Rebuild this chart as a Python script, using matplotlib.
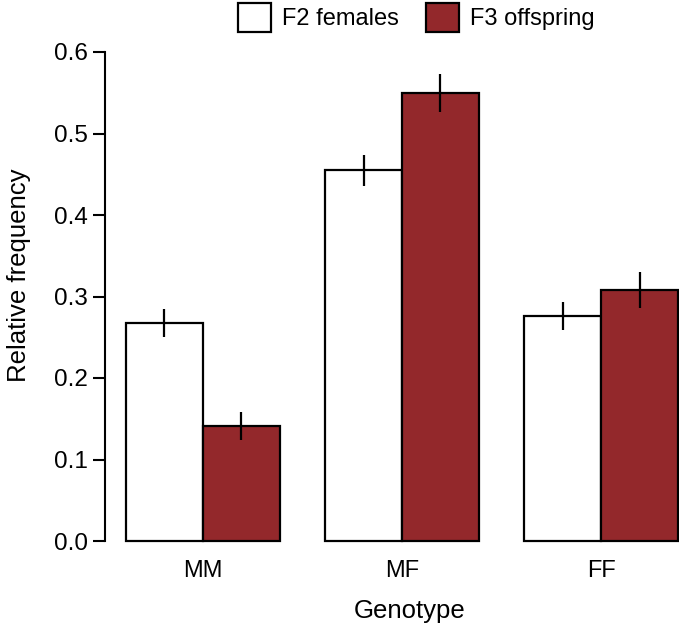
import numpy as np
import matplotlib
matplotlib.use('Agg')
import matplotlib.pyplot as plt
from matplotlib.patches import Patch

plt.rcParams['font.family'] = ['Liberation Sans', 'DejaVu Sans']

genotypes = ['MM', 'MF', 'FF']
f2_females = [0.2675, 0.455, 0.276]
f2_err = [0.017, 0.019, 0.017]
f3_offspring = [0.141, 0.5497, 0.308]
f3_err = [0.017, 0.0233, 0.022]

red = '#93282B'
w = 0.386
x = np.arange(len(genotypes))

fig = plt.figure(figsize=(6.79, 6.32), dpi=100)
ax = fig.add_axes([105 / 679, (632 - 541) / 632, 1 - 105 / 679, (541 - 52) / 632])

ax.bar(x - w / 2, f2_females, w, color='white', edgecolor='black', linewidth=1.6, clip_on=False)
ax.bar(x + w / 2, f3_offspring, w, color=red, edgecolor='black', linewidth=1.6, clip_on=False)
ax.errorbar(x - w / 2, f2_females, yerr=f2_err, fmt='none', ecolor='black', elinewidth=1.6, capsize=0)
ax.errorbar(x + w / 2, f3_offspring, yerr=f3_err, fmt='none', ecolor='black', elinewidth=1.6, capsize=0)

ax.set_xlim(-0.491, 2.391)
ax.set_ylim(0, 0.6)
ax.set_yticks([0.0, 0.1, 0.2, 0.3, 0.4, 0.5, 0.6])
ax.set_yticklabels(['0.0', '0.1', '0.2', '0.3', '0.4', '0.5', '0.6'])
ax.set_xticks(x)
ax.set_xticklabels(genotypes)

for s in ['top', 'right', 'bottom']:
    ax.spines[s].set_visible(False)
ax.spines['left'].set_bounds(0, 0.6)
ax.spines['left'].set_linewidth(1.5)
ax.tick_params(axis='y', length=8.6, width=1.5, labelsize=17.5, pad=3.6)
ax.tick_params(axis='x', length=0, labelsize=17, pad=14)

ax.set_ylabel('Relative frequency', fontsize=18.5)
ax.yaxis.set_label_coords(-0.129, 0.544)
ax.set_xlabel('Genotype', fontsize=18.5)
ax.xaxis.set_label_coords(0.531, -0.119)

handles = [Patch(facecolor='white', edgecolor='black', linewidth=1.6),
           Patch(facecolor=red, edgecolor='black', linewidth=1.6)]
fig.legend(handles, ['F2 females', 'F3 offspring'], loc='center',
           bbox_to_anchor=(416 / 679, 1 - 17.5 / 632), ncol=2, frameon=False, fontsize=17,
           handlelength=1.4, handleheight=1.45, handletextpad=0.47, columnspacing=1.14,
           borderpad=0.0)

fig.savefig('out.png', dpi=100)
